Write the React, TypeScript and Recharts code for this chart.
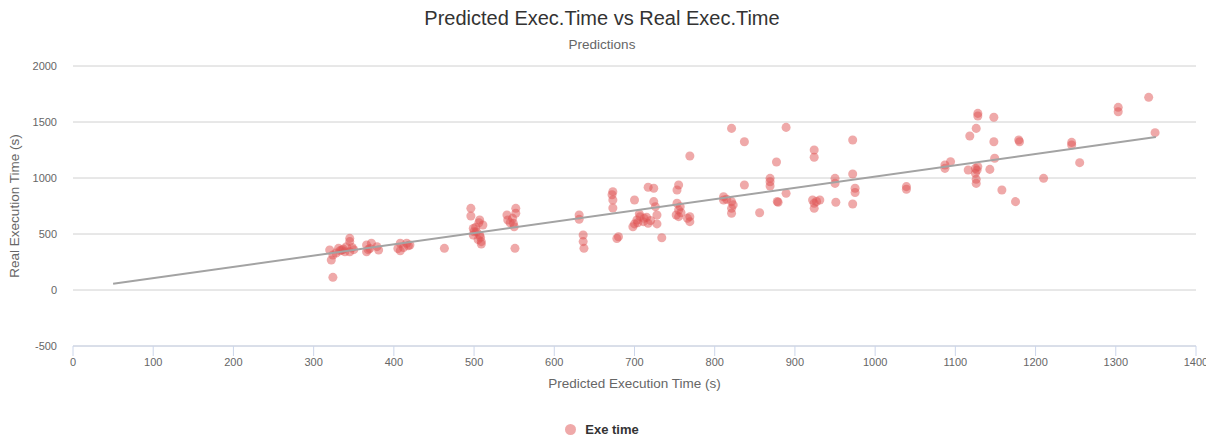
import React from 'react';
import {
  ScatterChart,
  Scatter,
  XAxis,
  YAxis,
  ZAxis,
  CartesianGrid,
  Legend,
  Label,
} from 'recharts';

const predicted: number[] = [
  324, 320, 322, 324, 331, 335, 339, 345, 345, 345, 341, 328, 333, 337, 350, 348,
  366, 366, 372, 379, 381, 370, 368,
  408, 408, 416, 420, 412, 405, 418,
  463,
  496, 496, 507, 499, 503, 507, 509, 499, 511, 505, 509, 502, 506, 500, 508,
  542, 541, 552, 552, 549, 550, 551, 545, 548,
  631, 631, 636, 636, 637,
  673, 673, 673, 672, 680, 678,
  700, 703, 698, 707, 711, 717, 724, 724, 726, 728, 717, 728, 734, 704, 712, 720, 700, 715, 706,
  755, 753, 753, 755, 755, 757, 769, 769, 769, 758, 752, 766,
  811, 811, 821, 821, 821, 821, 815, 823,
  837, 837, 856, 869, 869, 869, 877, 879, 889, 889, 878,
  924, 924, 922, 924, 924, 931, 927, 950, 950, 951, 972, 972, 975, 975, 972,
  1039, 1039, 1087, 1094, 1087, 1128, 1128, 1148, 1126, 1118, 1148, 1179, 1180, 1149,
  1125, 1125, 1116, 1143, 1126, 1126, 1158, 1175, 1210, 1245, 1245, 1255, 1303, 1303,
  1341, 1349, 1128, 1127,
];

const real: number[] = [
  113, 357, 268, 312, 372, 357, 342, 461, 432, 342, 387, 330, 350, 365, 360, 380,
  402, 342, 417, 387, 357, 370, 360,
  417, 351, 417, 402, 380, 370, 395,
  372,
  729, 661, 625, 550, 521, 491, 432, 491, 580, 450, 410, 560, 600, 520, 470,
  625, 670, 729, 685, 595, 565, 372, 600, 640,
  670, 631, 491, 432, 372,
  878, 804, 732, 850, 476, 460,
  804, 625, 565, 655, 610, 917, 908, 789, 744, 670, 595, 590, 467, 600, 640, 620, 590, 650, 680,
  937, 893, 774, 714, 655, 744, 1196, 655, 610, 690, 670, 640,
  833, 804, 789, 729, 685, 1443, 810, 760,
  1324, 937, 690, 997, 967, 929, 1143, 783, 1452, 863, 790,
  1250, 1185, 804, 774, 729, 804, 790, 997, 952, 783, 1339, 1036, 908, 870, 768,
  923, 899, 1116, 1146, 1086, 1577, 1553, 1542, 1443, 1375, 1324, 1339, 1324, 1176,
  1086, 1042, 1071, 1077, 988, 952, 893, 789, 997, 1318, 1295, 1137, 1631, 1592,
  1720, 1405, 1100, 1070,
];

const regressionX: number[] = [50, 1350];
const regressionY: number[] = [55, 1366];

const xTicks: number[] = [0, 100, 200, 300, 400, 500, 600, 700, 800, 900, 1000, 1100, 1200, 1300, 1400];
const yTicks: number[] = [-500, 0, 500, 1000, 1500, 2000];

const points = predicted.map((x, i) => ({ x, y: real[i] }));
const regression = regressionX.map((x, i) => ({ x, y: regressionY[i] }));

const FONT = '"Liberation Sans", Arial, Helvetica, sans-serif';

const YLabel = (props: any) => {
  const vb = props.viewBox || { x: 0, y: 66, width: 0, height: 280 };
  const cx = 14;
  const cy = vb.y + vb.height / 2;
  return (
    <text
      x={cx}
      y={cy}
      transform={`rotate(-90, ${cx}, ${cy})`}
      textAnchor="middle"
      dominantBaseline="central"
      fill="#666666"
      fontSize={13.5}
      fontFamily={FONT}
    >
      Real Execution Time (s)
    </text>
  );
};

export default function App() {
  return (
    <div style={{ position: 'absolute', left: 0, top: 0, width: 1206, height: 437, fontFamily: FONT, background: '#fff' }}>
      <div
        style={{
          position: 'absolute',
          top: 6,
          left: 0,
          width: 1204,
          textAlign: 'center',
          fontSize: 20,
          color: '#333333',
          lineHeight: '24px',
        }}
      >
        Predicted Exec.Time vs Real Exec.Time
      </div>
      <div
        style={{
          position: 'absolute',
          top: 37,
          left: 0,
          width: 1204,
          textAlign: 'center',
          fontSize: 13.5,
          color: '#666666',
          lineHeight: '16px',
        }}
      >
        Predictions
      </div>
      <ScatterChart
        width={1206}
        height={437}
        margin={{ top: 66, right: 10, left: 8, bottom: 0 }}
        style={{ fontFamily: FONT }}
      >
        <CartesianGrid vertical={false} stroke="#d0d0d0" strokeWidth={1} />
        <XAxis
          type="number"
          dataKey="x"
          domain={[0, 1400]}
          ticks={xTicks}
          interval={0}
          height={73}
          axisLine={{ stroke: '#ccd6eb' }}
          tickLine={{ stroke: '#ccd6eb' }}
          tickSize={10}
          tickMargin={2}
          tick={{ fill: '#666666', fontSize: 11 }}
          allowDataOverflow
        >
          <Label
            value="Predicted Execution Time (s)"
            position="insideTop"
            offset={32}
            fill="#666666"
            fontSize={13.5}
          />
        </XAxis>
        <YAxis
          type="number"
          dataKey="y"
          domain={[-500, 2000]}
          ticks={yTicks}
          interval={0}
          width={65}
          axisLine={false}
          tickLine={false}
          tickSize={0}
          tickMargin={16}
          tick={{ fill: '#666666', fontSize: 11 }}
          allowDataOverflow
        >
          <Label content={YLabel} />
        </YAxis>
        <ZAxis range={[113, 113]} />
        <Legend
          verticalAlign="bottom"
          align="center"
          iconType="circle"
          iconSize={11}
          wrapperStyle={{ position: 'absolute', top: 420, left: 4, width: 1206 }}
          formatter={(value: string) => (
            <span style={{ color: '#333333', fontWeight: 'bold', fontSize: 13, paddingLeft: 5 }}>{value}</span>
          )}
        />
        <Scatter
          name="Exe time"
          data={points}
          fill="rgba(223, 83, 83, 0.5)"
          isAnimationActive={false}
        />
        <Scatter
          name="Regression"
          data={regression}
          legendType="none"
          line={{ stroke: '#a3a3a3', strokeWidth: 2 }}
          shape={() => <g />}
          isAnimationActive={false}
        />
      </ScatterChart>
    </div>
  );
}
